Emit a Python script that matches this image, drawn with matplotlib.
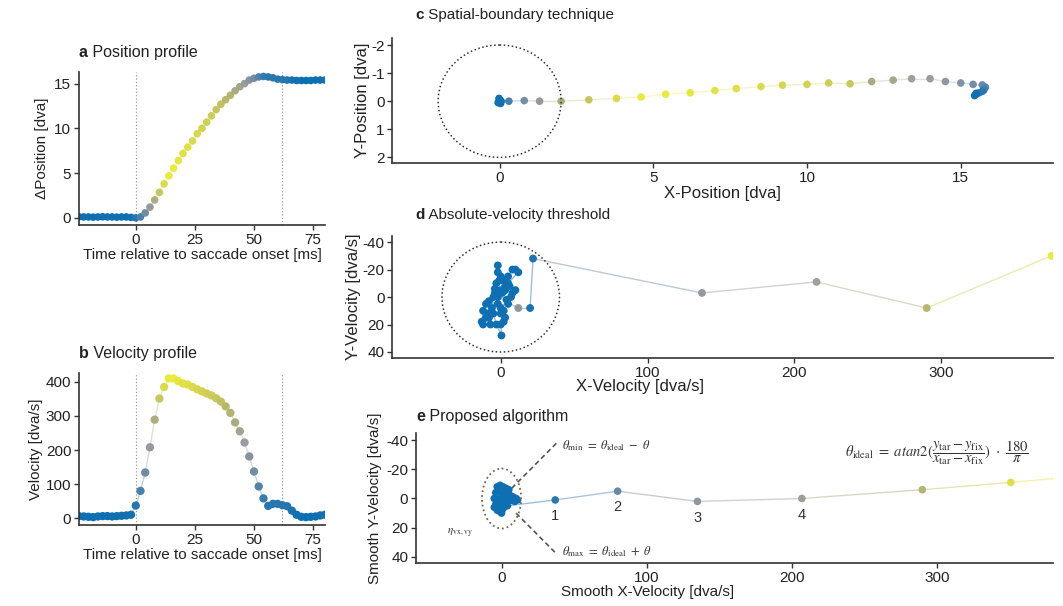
import numpy as np
import matplotlib
matplotlib.use("Agg")
import matplotlib.pyplot as plt
from matplotlib.colors import LinearSegmentedColormap, Normalize
from matplotlib.collections import LineCollection
from matplotlib.patches import Ellipse

# ---- data ----
t_ms = np.arange(-24, 81, 2)
position = [0.12, 0.1, 0.1, 0.08, 0.1, 0.12, 0.1, 0.1, 0.08, 0.1, 0.1, 0.05,
            0.0, 0.1, 0.55, 1.2, 2.0, 2.85, 3.8, 4.7, 5.55, 6.4, 7.2, 7.9, 8.6,
            9.4, 10.0, 10.7, 11.4, 12.1, 12.7, 13.2, 13.7, 14.2, 14.65, 15.0,
            15.4, 15.6, 15.75, 15.8, 15.75, 15.65, 15.5, 15.45, 15.4, 15.4,
            15.35, 15.35, 15.35, 15.35, 15.4, 15.4, 15.4]
velocity = [6, 5, 4, 3, 5, 6, 6, 5, 6, 7, 8, 10,
            37, 80, 134, 208, 289, 351, 385, 410, 410, 402, 395, 392, 385,
            378, 372, 366, 360, 352, 342, 328, 309, 281, 255, 222, 181, 137,
            93, 58, 36, 42, 42, 38, 35, 22, 10, 4, 3, 4, 5, 8, 10]
offset_ms = 62

# panel c: 2D gaze trajectory
c_x = [-0.05, 0.0, 0.03, -0.02, 0.05, 0.0,
       0.3, 0.8, 1.3, 2.0, 2.9, 3.8, 4.6, 5.4, 6.2, 7.0, 7.7, 8.5, 9.2, 10.0,
       10.7, 11.4, 12.1, 12.8, 13.4, 14.0, 14.5, 15.0, 15.4, 15.7, 15.8,
       15.75, 15.7, 15.6, 15.5, 15.45, 15.5]
c_y = [0.05, -0.05, 0.08, -0.1, 0.0, 0.02,
       0.0, -0.02, 0.0, 0.0, -0.05, -0.1, -0.15, -0.25, -0.3, -0.38, -0.45,
       -0.52, -0.57, -0.6, -0.65, -0.62, -0.7, -0.75, -0.8, -0.8, -0.7, -0.65,
       -0.6, -0.58, -0.5, -0.4, -0.35, -0.3, -0.25, -0.2, -0.28]
c_v = [4, 5, 6, 5, 8, 10,
       80, 140, 210, 290, 350, 385, 410, 410, 402, 395, 390, 385, 378, 370,
       362, 352, 280, 260, 240, 225, 200, 170, 140, 120, 95, 60, 40, 40, 20,
       8, 5]
c_radius = 2

# panel d: raw velocity space
d_vx = [-3, -5, -8, -10, -12, -13, -12, -8, -5, -3, 0.5, 0, 3, 2, 0, -2, 5, 8,
        10, 7, 4, -4, -6, -9, 1, 3, 6, -1, -4, -10, -7, 2, 0, -3, 0, -2, -2,
        2, 5, 8, 10, 12, 5, 3, 0, -2,
        12, 20, 22, 137, 215, 290, 375, 430]
d_vy = [-5, 0, 3, 5, 10, 18, 20, 15, 12, 20, 28, 20, 15, 10, 8, 5, 5, -3, -5,
        0, 2, -3, 8, 12, -3, -5, -8, -12, -6, 15, 20, 18, 12, -10, -15, -23,
        -18, -12, -15, -20, -20, -18, -10, -8, -5, 0,
        8, 8, -28, -3, -11, 8, -30, -40]
d_v = [5] * 46 + [200, 20, 30, 210, 240, 320, 410, 410]
d_radius = 40

# panel e: smoothed velocity space
e_vx = [-3, -1, 1, 3, 5, -4, -2, 0, 2, 4, 6, 8, 10, 11, 9, 7, 5, -5, -3, -1,
        1, 3, -4, -2, 0, 2, -3, -1, 1, -5, 0, 4,
        37, 80, 135, 207, 290, 351, 430]
e_vy = [-8, -9, -8, -7, -6, -4, -5, -4, -3, -4, -2, -1, 0, 1, 2, 1, 2, 0, 1, 0,
        1, 0, 4, 5, 4, 3, 8, 9, 7, 6, 10, 5,
        1, -5, 2, 0, -6, -11, -18]
e_v = [5] * 32 + [40, 120, 200, 230, 310, 390, 410]
e_numbered = ["1", "2", "3", "4"]
e_ellipse = (13.5, 20.5)

# ---- style ----
cmap = LinearSegmentedColormap.from_list(
    "sacc", [(0.0, "#0a6fb2"), (0.3, "#6a8aa6"), (0.55, "#9c9c9c"),
             (0.8, "#b8b86a"), (1.0, "#eaea3c")])
norm = Normalize(0, 410)
ink = "#222222"
reg = ["Liberation Sans", "DejaVu Sans"]
plt.rcParams["font.family"] = reg
plt.rcParams["font.size"] = 11
plt.rcParams["axes.unicode_minus"] = False


def style(ax):
    for s in ["top", "right"]:
        ax.spines[s].set_visible(False)
    for s in ["left", "bottom"]:
        ax.spines[s].set_color("#333333")
        ax.spines[s].set_linewidth(1.2)
    ax.tick_params(direction="out", length=3.5, width=1, color="#333333",
                   labelcolor=ink, labelsize=11, pad=2)


def title(ax, letter, text, dx, dy, size=11.5):
    lt = ax.text(dx, dy, letter, transform=ax.transAxes, weight="bold",
                 fontsize=size, color=ink, va="baseline", ha="left")
    ax.annotate(" " + text, xy=(1, 0), xycoords=lt, va="bottom", ha="left",
                fontsize=size, color=ink)


def path(ax, x, y, v, alpha=0.4, lw=1.0):
    pts = np.column_stack([x, y])
    segs = np.stack([pts[:-1], pts[1:]], axis=1)
    vm = (np.asarray(v[:-1], float) + np.asarray(v[1:], float)) / 2
    lc = LineCollection(segs, colors=cmap(norm(vm)), alpha=alpha,
                        linewidths=lw, zorder=1)
    ax.add_collection(lc)


fig = plt.figure(figsize=(10.63, 6.06), dpi=100)

# a: position profile
ax = fig.add_axes([0.0743, 0.6287, 0.2314, 0.2525])
path(ax, t_ms, position, velocity, alpha=0.3)
ax.scatter(t_ms, position, c=velocity, cmap=cmap, norm=norm, s=30,
           edgecolors="none", zorder=2)
for xv in [0, offset_ms]:
    ax.axvline(xv, color="#999999", ls=":", lw=0.9, zorder=0)
ax.set_xlim(-24, 80)
ax.set_ylim(-0.8, 16.3)
ax.set_xticks([0, 25, 50, 75])
ax.set_yticks([0, 5, 10, 15])
ax.set_xlabel("Time relative to saccade onset [ms]", color=ink, labelpad=1)
ax.set_ylabel("ΔPosition [dva]", color=ink, labelpad=4)
style(ax)
title(ax, "a", "Position profile", 0.0, 1.1)

# b: velocity profile
ax = fig.add_axes([0.0743, 0.1337, 0.2314, 0.2508])
path(ax, t_ms, velocity, velocity, alpha=0.35)
ax.scatter(t_ms, velocity, c=velocity, cmap=cmap, norm=norm, s=36,
           edgecolors="none", zorder=2)
for xv in [0, offset_ms]:
    ax.axvline(xv, color="#999999", ls=":", lw=0.9, zorder=0)
ax.set_xlim(-24, 80)
ax.set_ylim(-20, 426)
ax.set_xticks([0, 25, 50, 75])
ax.set_yticks([0, 100, 200, 300, 400])
ax.set_xlabel("Time relative to saccade onset [ms]", color=ink, labelpad=1)
ax.set_ylabel("Velocity [dva/s]", color=ink, labelpad=2)
style(ax)
title(ax, "b", "Velocity profile", 0.0, 1.1)

# c: spatial boundary
ax = fig.add_axes([0.3688, 0.731, 0.6218, 0.2063])
path(ax, c_x, c_y, c_v, alpha=0.3)
ax.scatter(c_x, c_y, c=c_v, cmap=cmap, norm=norm, s=30, edgecolors="none",
           zorder=2)
ax.add_patch(Ellipse((0, 0), 2 * c_radius, 2 * c_radius, fill=False,
                     ls=":", lw=1.1, ec="#333333", zorder=3))
ax.set_xlim(-3.5, 18)
ax.set_ylim(2.2, -2.25)
ax.set_xticks([0, 5, 10, 15])
ax.set_yticks([-2, -1, 0, 1, 2])
ax.set_xlabel("X-Position [dva]", color=ink, fontsize=12, labelpad=1)
ax.set_ylabel("Y-Position [dva]", color=ink, fontsize=12, labelpad=1)
style(ax)
title(ax, "c", "Spatial-boundary technique", 0.035, 1.155, 11)

# d: absolute velocity threshold
ax = fig.add_axes([0.3688, 0.4092, 0.6218, 0.2013])
path(ax, d_vx, d_vy, d_v, alpha=0.45)
ax.scatter(d_vx[:-1], d_vy[:-1], c=d_v[:-1], cmap=cmap, norm=norm, s=32,
           edgecolors="none", zorder=2)
ax.add_patch(Ellipse((0, 0), 2 * d_radius, 2 * d_radius, fill=False,
                     ls=":", lw=1.1, ec="#333333", zorder=3))
ax.set_xlim(-74, 376)
ax.set_ylim(44.4, -44.4)
ax.set_xticks([0, 100, 200, 300])
ax.set_yticks([-40, -20, 0, 20, 40])
ax.set_xlabel("X-Velocity [dva/s]", color=ink, fontsize=12, labelpad=1)
ax.xaxis.set_label_coords(0.375, -0.17)
ax.set_ylabel("Y-Velocity [dva/s]", color=ink, fontsize=12, labelpad=1)
style(ax)
title(ax, "d", "Absolute-velocity threshold", 0.035, 1.14, 11)

# e: proposed algorithm
ax = fig.add_axes([0.3913, 0.071, 0.5992, 0.2145])
path(ax, e_vx, e_vy, e_v, alpha=0.45)
ax.scatter(e_vx[:-1], e_vy[:-1], c=e_v[:-1], cmap=cmap, norm=norm, s=30,
           edgecolors="none", zorder=2)
ax.add_patch(Ellipse((0, 0), 2 * e_ellipse[0], 2 * e_ellipse[1], fill=False,
                     ls=":", lw=1.3, ec="#7a6650", zorder=3))
for i, lab in enumerate(e_numbered):
    ax.text(e_vx[32 + i], e_vy[32 + i] + 11, lab, ha="center", va="center",
            fontsize=10.5, color="#333333")
ax.plot([7, 39], [-7, -39], color="#555555", ls=(0, (3, 2)), lw=1.2,
        zorder=3, clip_on=False)
ax.plot([10, 38], [10, 38], color="#555555", ls=(0, (3, 2)), lw=1.2,
        zorder=3, clip_on=False)
ax.text(42, -36,
        r"$\theta_{\mathrm{min}}\ =\ \theta_{\mathrm{ideal}}\ -\ \theta$",
        fontsize=9, va="center", color="#333333", math_fontfamily="stix")
ax.text(42, 36,
        r"$\theta_{\mathrm{max}}\ =\ \theta_{\mathrm{ideal}}\ +\ \theta$",
        fontsize=9, va="center", color="#333333", math_fontfamily="stix")
ax.text(-29, 24, r"$\eta_{\mathrm{vx,vy}}$", fontsize=8, va="center",
        ha="center", color="#333333", math_fontfamily="stix")
ax.text(237, -31,
        r"$\theta_{\mathrm{ideal}}\ =\ atan2(\dfrac{y_{\mathrm{tar}} - "
        r"y_{\mathrm{fix}}}{x_{\mathrm{tar}} - x_{\mathrm{fix}}})\ \cdot\ "
        r"\dfrac{180}{\pi}$",
        fontsize=10.5, va="center", color="#333333", math_fontfamily="stix")
ax.set_xlim(-59, 380)
ax.set_ylim(44.1, -44.8)
ax.set_xticks([0, 100, 200, 300])
ax.set_yticks([-40, -20, 0, 20, 40])
ax.set_xlabel("Smooth X-Velocity [dva/s]", color=ink, labelpad=1)
ax.xaxis.set_label_coords(0.364, -0.17)
ax.set_ylabel("Smooth Y-Velocity [dva/s]", color=ink, labelpad=3)
style(ax)
title(ax, "e", "Proposed algorithm", 0.0, 1.09)

fig.savefig("out.png", dpi=100)
